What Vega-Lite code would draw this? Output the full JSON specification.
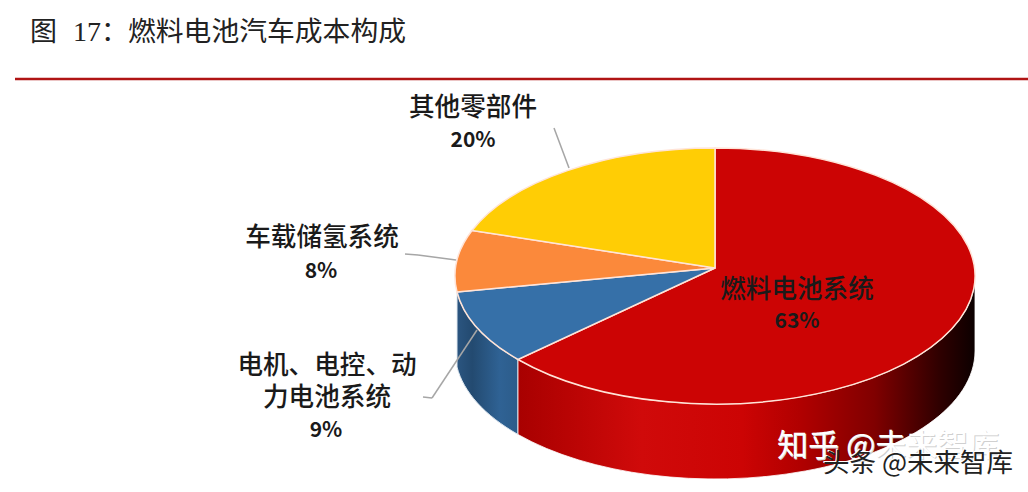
{
  "$schema": "https://vega.github.io/schema/vega-lite/v6.json",
  "width": 1028,
  "height": 492,
  "padding": 0,
  "autosize": {"type": "none"},
  "background": "#ffffff",
  "config": {"view": {"stroke": null}, "text": {"font": "Noto Sans CJK SC"}},
  "encoding": {
    "x": {"type": "quantitative", "scale": {"domain": [0, 1028]}, "axis": null},
    "y": {"type": "quantitative", "scale": {"domain": [0, 492], "reverse": true}, "axis": null}
  },
  "datasets": {
    "pie": [
      {"name": "燃料电池系统", "share": 63},
      {"name": "电机、电控、动力电池系统", "share": 9},
      {"name": "车载储氢系统", "share": 8},
      {"name": "其他零部件", "share": 20}
    ],
    "one": [{"id": 1}]
  },
  "layer": [
    {
      "data": {"values": [{"label": "图"}]},
      "mark": {"type": "text", "align": "left", "baseline": "middle", "fontSize": 27, "color": "#222222"},
      "encoding": {"x": {"datum": 30}, "y": {"datum": 33}, "text": {"field": "label"}}
    },
    {
      "data": {"values": [{"label": "17"}]},
      "mark": {"type": "text", "align": "left", "baseline": "middle", "fontSize": 28, "font": "Liberation Serif", "color": "#222222"},
      "encoding": {"x": {"datum": 73}, "y": {"datum": 33}, "text": {"field": "label"}}
    },
    {
      "data": {"values": [{"label": "："}]},
      "mark": {"type": "text", "align": "left", "baseline": "middle", "fontSize": 27, "color": "#222222"},
      "encoding": {"x": {"datum": 101}, "y": {"datum": 33}, "text": {"field": "label"}}
    },
    {
      "data": {"values": [{"label": "燃料电池汽车成本构成"}]},
      "mark": {"type": "text", "align": "left", "baseline": "middle", "fontSize": 27.8, "color": "#222222"},
      "encoding": {"x": {"datum": 128}, "y": {"datum": 33}, "text": {"field": "label"}}
    },
    {
      "data": {"name": "one"},
      "mark": {"type": "rule", "color": "#b01414", "strokeWidth": 2.5},
      "encoding": {"x": {"datum": 15}, "x2": {"datum": 1028}, "y": {"datum": 79}}
    },
    {
      "data": {"name": "pie"},
      "transform": [{"filter": "datum.share == 9"}],
      "mark": {
        "type": "point", "filled": true, "opacity": 1, "stroke": "#dfe8f0", "strokeWidth": 1,
        "shape": "M-258,16 A260,128 0 0 0 -197,83.5 L-197,158.5 A260,128 0 0 1 -258,91 Z",
        "fill": {"gradient": "linear", "x1": 0, "y1": 0, "x2": 1, "y2": 0, "stops": [
          {"offset": 0, "color": "#2b5580"},
          {"offset": 0.25, "color": "#234a70"},
          {"offset": 0.7, "color": "#2f6294"},
          {"offset": 1, "color": "#2c5c8a"}
        ]}
      },
      "encoding": {"x": {"datum": 715}, "y": {"datum": 276}, "size": {"value": 4}}
    },
    {
      "data": {"name": "pie"},
      "transform": [{"filter": "datum.share == 63"}],
      "mark": {
        "type": "point", "filled": true, "opacity": 1, "stroke": "#ffffff", "strokeWidth": 0.8,
        "shape": "M-197,83.5 A260,128 0 0 0 260,0 L260,75 A260,128 0 0 1 -197,158.5 Z",
        "fill": {"gradient": "linear", "x1": 0, "y1": 0, "x2": 1, "y2": 0, "stops": [
          {"offset": 0, "color": "#a80000"},
          {"offset": 0.27, "color": "#d00a0a"},
          {"offset": 0.49, "color": "#cc0404"},
          {"offset": 0.62, "color": "#b00000"},
          {"offset": 0.78, "color": "#800000"},
          {"offset": 0.92, "color": "#300000"},
          {"offset": 1, "color": "#0c0000"}
        ]}
      },
      "encoding": {"x": {"datum": 715}, "y": {"datum": 276}, "size": {"value": 4}}
    },
    {
      "data": {"name": "pie"},
      "mark": {"type": "point", "filled": true, "opacity": 1, "stroke": "#ffe4d8", "strokeWidth": 1.5},
      "encoding": {
        "x": {"datum": 715},
        "y": {"datum": 276},
        "size": {"value": 4},
        "color": {
          "field": "name", "type": "nominal", "legend": null,
          "scale": {
            "domain": ["燃料电池系统", "电机、电控、动力电池系统", "车载储氢系统", "其他零部件"],
            "range": ["#cc0404", "#3670a8", "#fb893b", "#ffcd05"]
          }
        },
        "shape": {
          "field": "name", "type": "nominal", "legend": null,
          "scale": {
            "domain": ["燃料电池系统", "电机、电控、动力电池系统", "车载储氢系统", "其他零部件"],
            "range": [
              "M0,-8 L0,-128 A260,128 0 1 1 -197,83.5 Z",
              "M0,-8 L-197,83.5 A260,128 0 0 1 -258,16 Z",
              "M0,-8 L-258,16 A260,128 0 0 1 -243,-45.5 Z",
              "M0,-8 L-243,-45.5 A260,128 0 0 1 0,-128 Z"
            ]
          }
        }
      }
    },
    {
      "data": {"name": "one"},
      "mark": {"type": "rule", "color": "#a6a6a6", "strokeWidth": 1.5},
      "encoding": {"x": {"datum": 554}, "x2": {"datum": 569}, "y": {"datum": 128}, "y2": {"datum": 168}}
    },
    {
      "data": {"name": "one"},
      "mark": {"type": "rule", "color": "#a6a6a6", "strokeWidth": 1.5},
      "encoding": {"x": {"datum": 405}, "x2": {"datum": 418}, "y": {"datum": 254}, "y2": {"datum": 255}}
    },
    {
      "data": {"name": "one"},
      "mark": {"type": "rule", "color": "#a6a6a6", "strokeWidth": 1.5},
      "encoding": {"x": {"datum": 418}, "x2": {"datum": 456}, "y": {"datum": 255}, "y2": {"datum": 260}}
    },
    {
      "data": {"name": "one"},
      "mark": {"type": "rule", "color": "#a6a6a6", "strokeWidth": 1.5},
      "encoding": {"x": {"datum": 423}, "x2": {"datum": 432}, "y": {"datum": 397}, "y2": {"datum": 398}}
    },
    {
      "data": {"name": "one"},
      "mark": {"type": "rule", "color": "#a6a6a6", "strokeWidth": 1.5},
      "encoding": {"x": {"datum": 432}, "x2": {"datum": 477}, "y": {"datum": 398}, "y2": {"datum": 330}}
    },
    {
      "data": {"values": [{"label": "其他零部件"}]},
      "mark": {"type": "text", "fontSize": 25.6, "fontWeight": 500, "color": "#1a1a1a"},
      "encoding": {"x": {"datum": 473}, "y": {"datum": 108}, "text": {"field": "label"}}
    },
    {
      "data": {"values": [{"label": "20%"}]},
      "mark": {"type": "text", "fontSize": 21, "fontWeight": "bold", "color": "#1a1a1a"},
      "encoding": {"x": {"datum": 473}, "y": {"datum": 141}, "text": {"field": "label"}}
    },
    {
      "data": {"values": [{"label": "车载储氢系统"}]},
      "mark": {"type": "text", "fontSize": 25.6, "fontWeight": 500, "color": "#1a1a1a"},
      "encoding": {"x": {"datum": 322}, "y": {"datum": 238}, "text": {"field": "label"}}
    },
    {
      "data": {"values": [{"label": "8%"}]},
      "mark": {"type": "text", "fontSize": 21, "fontWeight": "bold", "color": "#1a1a1a"},
      "encoding": {"x": {"datum": 321}, "y": {"datum": 272}, "text": {"field": "label"}}
    },
    {
      "data": {"values": [{"label": "电机、电控、动"}]},
      "mark": {"type": "text", "fontSize": 25.6, "fontWeight": 500, "color": "#1a1a1a"},
      "encoding": {"x": {"datum": 327}, "y": {"datum": 366}, "text": {"field": "label"}}
    },
    {
      "data": {"values": [{"label": "力电池系统"}]},
      "mark": {"type": "text", "fontSize": 25.6, "fontWeight": 500, "color": "#1a1a1a"},
      "encoding": {"x": {"datum": 327}, "y": {"datum": 398}, "text": {"field": "label"}}
    },
    {
      "data": {"values": [{"label": "9%"}]},
      "mark": {"type": "text", "fontSize": 21, "fontWeight": "bold", "color": "#1a1a1a"},
      "encoding": {"x": {"datum": 326}, "y": {"datum": 431}, "text": {"field": "label"}}
    },
    {
      "data": {"values": [{"label": "燃料电池系统"}]},
      "mark": {"type": "text", "fontSize": 25.6, "fontWeight": 500, "color": "#1a1a1a"},
      "encoding": {"x": {"datum": 797}, "y": {"datum": 290}, "text": {"field": "label"}}
    },
    {
      "data": {"values": [{"label": "63%"}]},
      "mark": {"type": "text", "fontSize": 21, "fontWeight": "bold", "color": "#1a1a1a"},
      "encoding": {"x": {"datum": 797}, "y": {"datum": 322}, "text": {"field": "label"}}
    },
    {
      "data": {"values": [{"label": "知乎 @未来智库"}]},
      "mark": {"type": "text", "align": "left", "fontSize": 31, "color": "#d0d0d0", "dx": 1, "dy": 1},
      "encoding": {"x": {"datum": 777}, "y": {"datum": 447}, "text": {"field": "label"}}
    },
    {
      "data": {"values": [{"label": "知乎 @未来智库"}]},
      "mark": {"type": "text", "align": "left", "fontSize": 31, "color": "#ffffff"},
      "encoding": {"x": {"datum": 777}, "y": {"datum": 447}, "text": {"field": "label"}}
    },
    {
      "data": {"values": [{"label": "头条 @未来智库"}]},
      "mark": {"type": "text", "align": "left", "fontSize": 26.5, "color": "#ffffff", "dx": -1, "dy": -1},
      "encoding": {"x": {"datum": 823}, "y": {"datum": 464}, "text": {"field": "label"}}
    },
    {
      "data": {"values": [{"label": "头条 @未来智库"}]},
      "mark": {"type": "text", "align": "left", "fontSize": 26.5, "color": "#222222"},
      "encoding": {"x": {"datum": 823}, "y": {"datum": 464}, "text": {"field": "label"}}
    }
  ]
}
